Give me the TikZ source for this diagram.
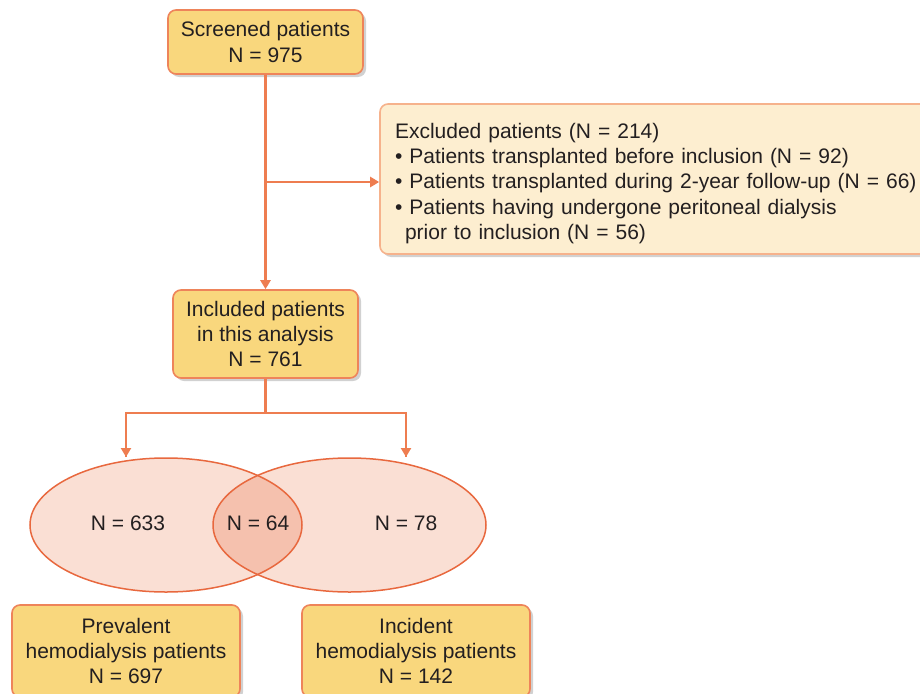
\documentclass[tikz,border=0pt]{standalone}
\usepackage{fontspec}
\setmainfont{Liberation Sans}
\usetikzlibrary{shapes.geometric,shadows,arrows.meta}
\definecolor{boxfill}{RGB}{249,215,125}
\definecolor{boxdraw}{RGB}{238,132,90}
\definecolor{excfill}{RGB}{253,238,208}
\definecolor{excdraw}{RGB}{246,178,140}
\definecolor{linec}{RGB}{238,125,80}
\definecolor{ellfill}{RGB}{250,223,212}
\definecolor{ellover}{RGB}{245,193,174}
\definecolor{elldraw}{RGB}{232,104,62}
\definecolor{txt}{RGB}{35,31,32}
\begin{document}
\begin{tikzpicture}[x=1pt,y=-1pt,
  font=\fontsize{21}{25.3}\selectfont, text=txt,
  shad/.style={drop shadow={shadow xshift=3pt,shadow yshift=-3pt,opacity=0.3,fill=black!60}},
  ybox/.style={draw=boxdraw,line width=1.6pt,fill=boxfill,rounded corners=8pt,align=center,inner sep=0pt,shad},
  ebox/.style={draw=excdraw,line width=1.6pt,fill=excfill,rounded corners=8pt,align=left,inner xsep=15pt,inner ysep=0pt,shad},
  conn/.style={draw=linec,line width=2.4pt},
  arr/.style={conn,-{Triangle[length=9pt,width=10pt]}},
  ell/.style={ellipse,draw=elldraw,line width=1.5pt,inner sep=0pt},
  lbl/.style={inner sep=0pt}]
\useasboundingbox (0,0) rectangle (920,693);

\node[ybox,minimum width=195pt,minimum height=64pt] (scr) at (265.5,42) {Screened patients\\N = 975};
\node[ebox,minimum height=150pt,text width=540pt] (exc) at (665,179) {\rule{0pt}{24pt}Excluded patients (N = 214)\\
\textbullet\ Patients transplanted before inclusion (N = 92)\\
\textbullet\ Patients transplanted during 2-year follow-up (N = 66)\\
\textbullet\ Patients having undergone peritoneal dialysis\\
\hspace*{10pt}prior to inclusion (N = 56)};
\node[ybox,minimum width=185pt,minimum height=88pt] (inc) at (265.5,334) {Included patients\\in this analysis\\N = 761};

% ellipses
\fill[ellfill] (166,525) ellipse (136 and 67);
\fill[ellfill] (349.5,525) ellipse (136.5 and 67);
\begin{scope}
\clip (166,525) ellipse (136 and 67);
\fill[ellover] (349.5,525) ellipse (136.5 and 67);
\end{scope}
\node[ell,minimum width=272pt,minimum height=134pt] (le) at (166,525) {};
\node[ell,minimum width=273pt,minimum height=134pt] (re) at (349.5,525) {};
\node[lbl] (n1) at (128,523) {N = 633};
\node[lbl] (n2) at (258,523) {N = 64};
\node[lbl] (n3) at (406,523) {N = 78};

\node[ybox,minimum width=228pt,minimum height=92pt] (prev) at (126,651) {Prevalent\\hemodialysis patients\\N = 697};
\node[ybox,minimum width=228pt,minimum height=92pt] (incd) at (416,651) {Incident\\hemodialysis patients\\N = 142};

% connectors
\coordinate (br) at (265.5,182);
\coordinate (sp) at (265.5,413);
\coordinate (spl) at (126,413);
\coordinate (spr) at (406,413);
\coordinate (tl) at (126,457);
\coordinate (tr) at (406,457);
\draw[arr] (scr.south) -- (inc.north);
\draw[arr] (br) -- (br -| exc.west);
\draw[conn] (inc.south) -- (sp);
\draw[conn,line join=miter] (tl) -- (spl) -- (spr) -- (tr);
\draw[arr] (spl) -- (tl);
\draw[arr] (spr) -- (tr);
\end{tikzpicture}
\end{document}
